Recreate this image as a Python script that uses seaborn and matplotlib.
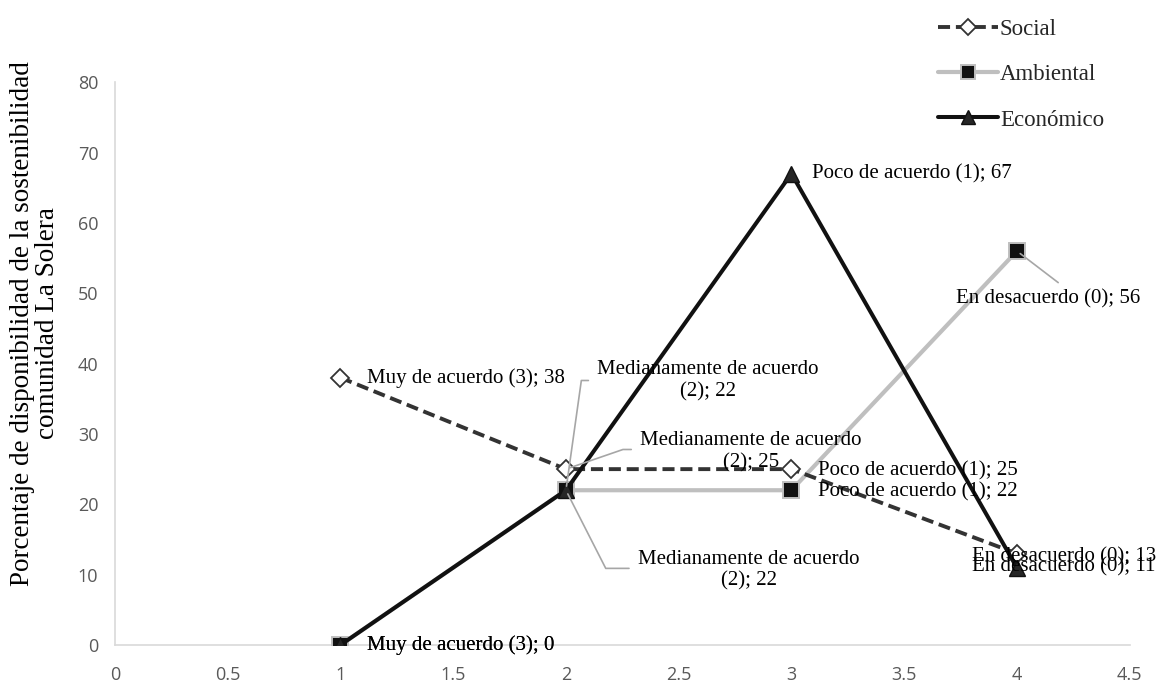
import matplotlib
matplotlib.use("Agg")
import matplotlib.pyplot as plt
import seaborn as sns
import pandas as pd
from matplotlib.lines import Line2D

# ---------------- data ----------------
x_vals = [1, 2, 3, 4]
social = [38, 25, 25, 13]
ambiental = [0, 22, 22, 56]
economico = [0, 22, 67, 11]
series_names = ["Social", "Ambiental", "Económico"]

social_labels = ["Muy de acuerdo (3); 38", "Medianamente de acuerdo\n(2); 25",
                 "Poco de acuerdo (1); 25", "En desacuerdo (0); 13"]
ambiental_labels = ["Muy de acuerdo (3); 0", "Medianamente de acuerdo\n(2); 22",
                    "Poco de acuerdo (1); 22", "En desacuerdo (0); 56"]
economico_labels = ["Muy de acuerdo (3); 0", "Medianamente de acuerdo\n(2); 22",
                    "Poco de acuerdo (1); 67", "En desacuerdo (0); 11"]

x_ticks = [0, 0.5, 1, 1.5, 2, 2.5, 3, 3.5, 4, 4.5]
x_tick_labels = ["0", "0.5", "1", "1.5", "2", "2.5", "3", "3.5", "4", "4.5"]
y_ticks = [0, 10, 20, 30, 40, 50, 60, 70, 80]

y_title = "Porcentaje de disponibilidad de la sostenibilidad\ncomunidad La Solera"

df = pd.DataFrame({
    "x": x_vals * 3,
    "y": social + ambiental + economico,
    "serie": [series_names[0]] * 4 + [series_names[1]] * 4 + [series_names[2]] * 4,
})

# ---------------- style ----------------
sns.set_theme(style="white")
plt.rcParams["font.family"] = ["Liberation Serif", "DejaVu Serif"]

fig = plt.figure(figsize=(11.61, 6.88), dpi=100)
ax = fig.add_axes([0.099, 0.0625, 0.874, 0.818])

styles = {
    "Social": dict(color="#333333", lw=2.8, ls=(0, (3.1, 1.5)), marker="D", ms=9.5,
                   mfc="white", mec="#333333", mew=1.3),
    "Ambiental": dict(color="#BFBFBF", lw=3.0, ls="-", marker="s", ms=11.5,
                      mfc="#111111", mec="#BFBFBF", mew=1.4),
    "Económico": dict(color="#111111", lw=2.9, ls="-", marker="^", ms=12,
                      mfc="#262626", mec="#111111", mew=1.0),
}

for name in ["Ambiental", "Social", "Económico"]:
    st = styles[name]
    sub = df[df["serie"] == name]
    sns.lineplot(data=sub, x="x", y="y", ax=ax, color=st["color"], linewidth=st["lw"],
                 linestyle=st["ls"], marker=st["marker"], markersize=st["ms"],
                 markerfacecolor=st["mfc"], markeredgecolor=st["mec"],
                 markeredgewidth=st["mew"], legend=False, zorder=3)

ax.set_xlim(0, 4.5)
ax.set_ylim(0, 80)
ax.set_xticks(x_ticks)
ax.set_xticklabels(x_tick_labels)
ax.set_yticks(y_ticks)
ax.set_xlabel("")
ax.set_ylabel("")
ax.tick_params(axis="both", length=0, labelsize=13, colors="#595959")
ax.tick_params(axis="x", pad=15)
ax.tick_params(axis="y", pad=12)
for lab in ax.get_xticklabels() + ax.get_yticklabels():
    lab.set_fontfamily(["Open Sans", "DejaVu Sans"])
for side in ["top", "right"]:
    ax.spines[side].set_visible(False)
for side in ["left", "bottom"]:
    ax.spines[side].set_color("#D9D9D9")
    ax.spines[side].set_linewidth(1.2)
ax.grid(False)
ax.patch.set_alpha(0)

# ---------------- data labels ----------------
fs = 15

plain = [
    (social_labels[0], 1.12, 37.9),
    (social_labels[2], 3.12, 24.7),
    (social_labels[3], 3.80, 12.6),
    (ambiental_labels[0], 1.12, 0.0),
    (ambiental_labels[2], 3.12, 21.8),
    (economico_labels[0], 1.12, 0.0),
    (economico_labels[2], 3.09, 67.0),
    (economico_labels[3], 3.80, 11.1),
]
for txt, tx, ty in plain:
    ax.text(tx, ty, txt, fontsize=fs, ha="left", va="center", color="black",
            zorder=4, clip_on=False)

# labels with elbow leader lines: (point x, point y, text, text x, text y, relpos, angleB)
leaders = [
    (x_vals[1], economico[1], economico_labels[1], 2.63, 37.6, (0.0, 0.5), 82, "angle"),
    (x_vals[1], social[1], social_labels[1], 2.82, 27.5, (0.0, 0.55), 19, "angle"),
    (x_vals[1], ambiental[1], ambiental_labels[1], 2.81, 10.6, (0.0, 0.55), -63, "angle"),
    (x_vals[3], ambiental[3], ambiental_labels[3], 4.14, 49.2, (0.6, 1.0), 0, "arc3"),
]
for px, py, txt, tx, ty, rp, angb, cs in leaders:
    if cs == "angle":
        cstyle = f"angle,angleA=0,angleB={angb},rad=0"
    else:
        cstyle = "arc3,rad=0"
    ax.annotate(txt, xy=(px, py), xytext=(tx, ty), textcoords="data",
                fontsize=fs, ha="center", va="center", multialignment="center",
                color="black", zorder=4, annotation_clip=False,
                arrowprops=dict(arrowstyle="-", color="#A6A6A6", lw=1.2,
                                shrinkA=4, shrinkB=3, relpos=rp,
                                connectionstyle=cstyle))

# ---------------- y title ----------------
fig.text(0.030, 0.530, y_title, rotation=90, ha="center", va="center",
         multialignment="center", fontsize=19.5, color="black", linespacing=1.0)

# ---------------- legend ----------------
handles = []
for name in series_names:
    st = styles[name]
    handles.append(Line2D([0], [0], color=st["color"], lw=st["lw"], ls=st["ls"],
                          marker=st["marker"], ms=st["ms"] * 0.85, mfc=st["mfc"],
                          mec=st["mec"], mew=st["mew"]))
fig.legend(handles, series_names, loc="upper left", bbox_to_anchor=(0.808, 0.972),
           frameon=False, fontsize=16.5, handlelength=2.6, handletextpad=0.1,
           labelspacing=1.05, borderaxespad=0.0, borderpad=0.0)

fig.savefig("out.png", dpi=100)
